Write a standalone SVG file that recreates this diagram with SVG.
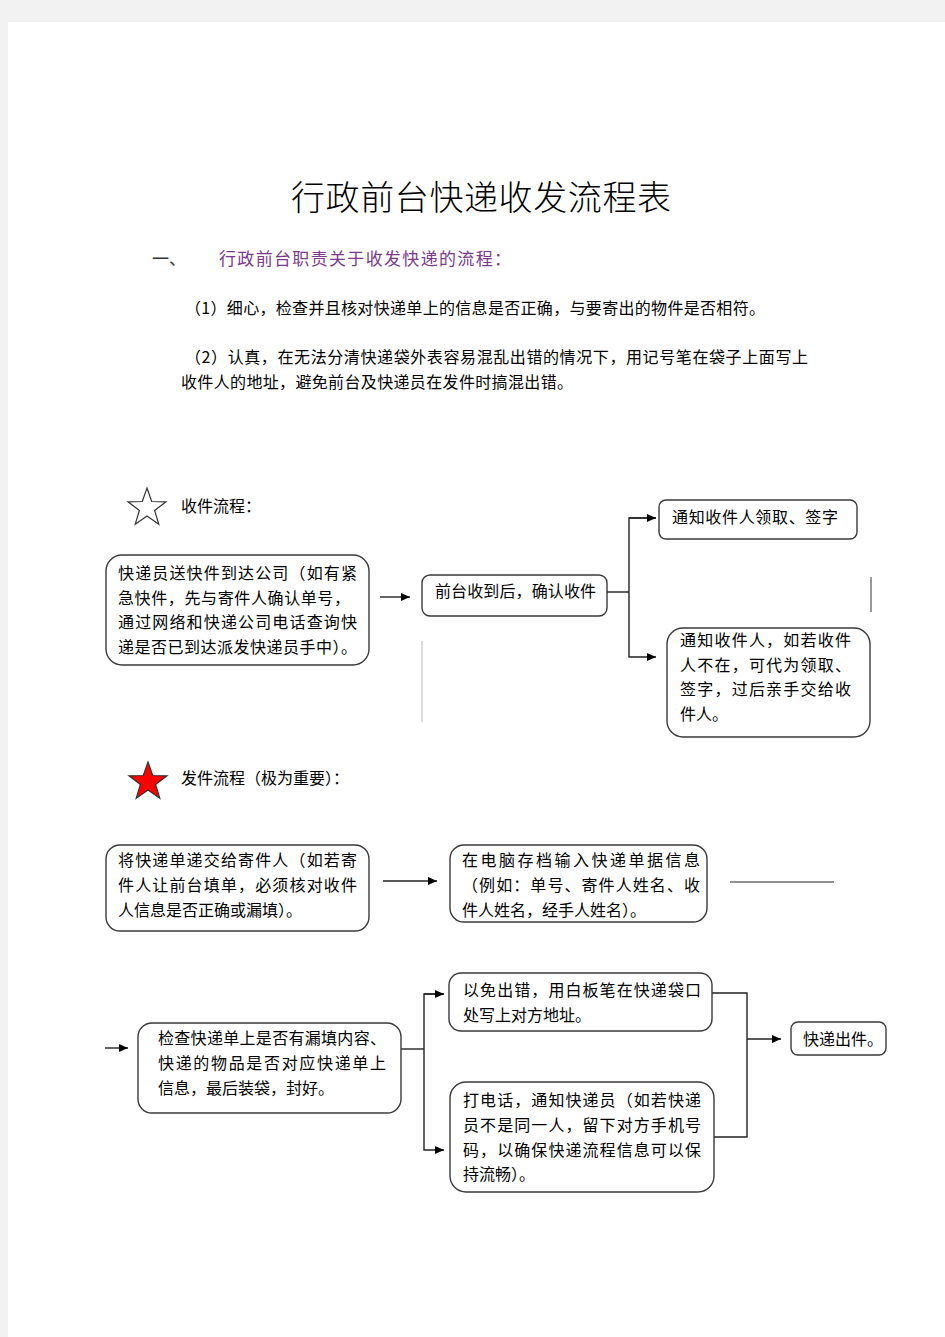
<svg xmlns="http://www.w3.org/2000/svg" width="945" height="1337" viewBox="0 0 945 1337">
<style>
text{font-family:"Noto Sans CJK SC","Liberation Sans",sans-serif;font-size:16px;fill:#000}
.box{fill:#fff;stroke:#3a3a3a;stroke-width:1.4}
.ln{fill:none;stroke:#222;stroke-width:1.4}
</style>
<defs>
<marker id="ah" markerWidth="10" markerHeight="10" refX="9" refY="5" orient="auto" markerUnits="userSpaceOnUse">
<path d="M0,1 L9,5 L0,9 Z" fill="#000"/>
</marker>
<polygon id="star" points="0,-20 4.70,-6.47 19.02,-6.18 7.61,2.47 11.76,16.18 0,8 -11.76,16.18 -7.61,2.47 -19.02,-6.18 -4.70,-6.47"/>
</defs>
<rect x="0" y="0" width="945" height="1337" fill="#f2f2f2"/>
<rect x="8" y="22" width="937" height="1315" fill="#fff"/>

<g id="header">
<text x="481" y="210" text-anchor="middle" style="font-size:34px;font-weight:300" textLength="380" lengthAdjust="spacing">行政前台快递收发流程表</text>
<text x="152" y="265" style="font-size:17px;fill:#333">一、</text>
<text x="219" y="265" style="font-size:17px;fill:#7b3a8c" textLength="292" lengthAdjust="spacing">行政前台职责关于收发快递的流程：</text>
<text x="185" y="314" textLength="580" lengthAdjust="spacing">（1）细心，检查并且核对快递单上的信息是否正确，与要寄出的物件是否相符。</text>
<text x="185" y="363" textLength="623" lengthAdjust="spacing">（2）认真，在无法分清快递袋外表容易混乱出错的情况下，用记号笔在袋子上面写上</text>
<text x="181" y="388" textLength="392" lengthAdjust="spacing">收件人的地址，避免前台及快递员在发件时搞混出错。</text>
</g>

<g id="receive-title">
<use href="#star" x="147" y="508" fill="#fff" stroke="#333" stroke-width="1.2"/>
<text x="181" y="512">收件流程：</text>
</g>

<g id="connectors">
<line class="ln" x1="380" y1="597" x2="410" y2="597" marker-end="url(#ah)"/>
<polyline class="ln" points="607,592 629,592"/>
<polyline class="ln" points="656,518 629,518 629,657 656,657" marker-end="url(#ah)"/>
<line class="ln" x1="629" y1="518" x2="656" y2="518" marker-end="url(#ah)"/>
<line x1="422" y1="641" x2="422" y2="722" stroke="#bbb" stroke-width="1"/>
<line x1="871" y1="577" x2="871" y2="612" stroke="#555" stroke-width="1.2"/>
<line class="ln" x1="383" y1="881" x2="437" y2="881" marker-end="url(#ah)"/>
<line x1="730" y1="882" x2="834" y2="882" stroke="#222" stroke-width="1"/>
<line class="ln" x1="105" y1="1048" x2="128" y2="1048" marker-end="url(#ah)"/>
<polyline class="ln" points="401,1049 424,1049"/>
<polyline class="ln" points="444,994 424,994 424,1150 444,1150" marker-end="url(#ah)"/>
<line class="ln" x1="424" y1="994" x2="444" y2="994" marker-end="url(#ah)"/>
<polyline class="ln" points="712,993 747,993 747,1137 714,1137"/>
<line class="ln" x1="747" y1="1039" x2="781" y2="1039" marker-end="url(#ah)"/>
</g>

<g id="n1">
<rect class="box" x="106" y="555" width="263" height="110" rx="16"/>
<text x="118" y="579" textLength="239" lengthAdjust="spacing">快递员送快件到达公司（如有紧</text>
<text x="118" y="604" textLength="232" lengthAdjust="spacing">急快件，先与寄件人确认单号，</text>
<text x="118" y="628" textLength="239" lengthAdjust="spacing">通过网络和快递公司电话查询快</text>
<text x="118" y="653" textLength="239" lengthAdjust="spacing">递是否已到达派发快递员手中）。</text>
</g>
<g id="n2">
<rect class="box" x="422" y="575" width="185" height="41" rx="8"/>
<text x="435" y="597" textLength="161" lengthAdjust="spacing">前台收到后，确认收件</text>
</g>
<g id="n3">
<rect class="box" x="659" y="500" width="198" height="39" rx="7"/>
<text x="672" y="523" textLength="166" lengthAdjust="spacing">通知收件人领取、签字</text>
</g>
<g id="n4">
<rect class="box" x="667" y="628" width="203" height="109" rx="16"/>
<text x="680" y="646" textLength="171" lengthAdjust="spacing">通知收件人，如若收件</text>
<text x="680" y="671" textLength="171" lengthAdjust="spacing">人不在，可代为领取、</text>
<text x="680" y="695" textLength="171" lengthAdjust="spacing">签字，过后亲手交给收</text>
<text x="680" y="720">件人。</text>
</g>

<g id="send-title">
<use href="#star" x="148" y="782" fill="#f00" stroke="#333" stroke-width="1.2"/>
<text x="181" y="784">发件流程（极为重要）：</text>
</g>

<g id="n5">
<rect class="box" x="106" y="845" width="263" height="86" rx="14"/>
<text x="118" y="866" textLength="239" lengthAdjust="spacing">将快递单递交给寄件人（如若寄</text>
<text x="118" y="891" textLength="239" lengthAdjust="spacing">件人让前台填单，必须核对收件</text>
<text x="118" y="916">人信息是否正确或漏填）。</text>
</g>
<g id="n6">
<rect class="box" x="450" y="845" width="257" height="77" rx="14"/>
<text x="462" y="866" textLength="238" lengthAdjust="spacing">在电脑存档输入快递单据信息</text>
<text x="462" y="891" textLength="238" lengthAdjust="spacing">（例如：单号、寄件人姓名、收</text>
<text x="462" y="916">件人姓名，经手人姓名）。</text>
</g>
<g id="n7">
<rect class="box" x="138" y="1023" width="263" height="90" rx="14"/>
<text x="158" y="1044" textLength="228" lengthAdjust="spacing">检查快递单上是否有漏填内容、</text>
<text x="158" y="1069" textLength="228" lengthAdjust="spacing">快递的物品是否对应快递单上</text>
<text x="158" y="1094">信息，最后装袋，封好。</text>
</g>
<g id="n8">
<rect class="box" x="449" y="973" width="263" height="58" rx="12"/>
<text x="463" y="996" textLength="238" lengthAdjust="spacing">以免出错，用白板笔在快递袋口</text>
<text x="463" y="1021">处写上对方地址。</text>
</g>
<g id="n9">
<rect class="box" x="450" y="1082" width="264" height="110" rx="16"/>
<text x="463" y="1106" textLength="238" lengthAdjust="spacing">打电话，通知快递员（如若快递</text>
<text x="463" y="1131" textLength="238" lengthAdjust="spacing">员不是同一人，留下对方手机号</text>
<text x="463" y="1156" textLength="238" lengthAdjust="spacing">码，以确保快递流程信息可以保</text>
<text x="463" y="1180">持流畅）。</text>
</g>
<g id="n10">
<rect class="box" x="791" y="1022" width="95" height="33" rx="7"/>
<text x="803" y="1045">快递出件。</text>
</g>
</svg>
